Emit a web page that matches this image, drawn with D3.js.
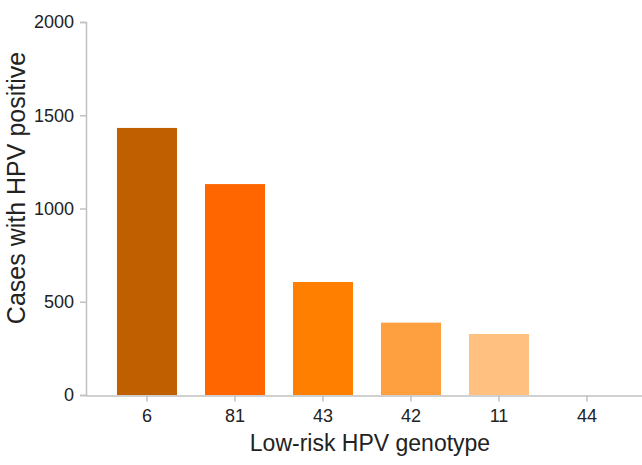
<!DOCTYPE html>
<html><head><meta charset="utf-8">
<script src="https://cdn.jsdelivr.net/npm/d3@7"></script>
<style>body{margin:0;background:#fff}svg{display:block}</style>
</head><body>
<svg id="chart" width="642" height="465"></svg>
<script>
const categories = ["6", "81", "43", "42", "11", "44"];
const values = [1432, 1131, 606, 388, 327, 0];
const colors = ["#C05F00", "#FF6600", "#FF8000", "#FFA040", "#FFC080", "#FFE0C0"];
const yTicks = [0, 500, 1000, 1500, 2000];

const svg = d3.select("#chart");
const x0 = 86, x1 = 648, yTop = 22, yBot = 395;
const x = d3.scaleBand().domain(categories).range([x0, x1]).paddingInner(0.318).paddingOuter(0.352);
const y = d3.scaleLinear().domain([0, 2000]).range([yBot, yTop]);

svg.selectAll("rect.bar").data(categories).enter().append("rect")
  .attr("class", "bar")
  .attr("x", d => x(d)).attr("width", x.bandwidth())
  .attr("y", (d, i) => y(values[i])).attr("height", (d, i) => yBot - y(values[i]))
  .attr("fill", (d, i) => colors[i]);

const gy = svg.append("g").attr("transform", `translate(${x0},0)`)
  .call(d3.axisLeft(y).tickValues(yTicks).tickSize(6).tickPadding(6).tickFormat(d3.format("d")));
const gx = svg.append("g").attr("transform", `translate(0,${yBot + 0.5})`)
  .call(d3.axisBottom(x).tickSize(6).tickPadding(8).tickSizeOuter(0));
[gy, gx].forEach(g => {
  g.attr("font-size", null).attr("font-family", null);
  g.selectAll("path,line").attr("stroke", "#c0c0c0").attr("stroke-width", 1.5);
  g.selectAll("text").attr("fill", "#222")
    .style("font-family", "Liberation Sans, Arial, sans-serif").style("font-size", "18px");
});

svg.append("text").attr("transform", `translate(25,188) rotate(-90)`)
  .attr("text-anchor", "middle").attr("fill", "#222")
  .style("font-family", "Liberation Sans, Arial, sans-serif").style("font-size", "25px")
  .text("Cases with HPV positive");
svg.append("text").attr("x", 370).attr("y", 451)
  .attr("text-anchor", "middle").attr("fill", "#222")
  .style("font-family", "Liberation Sans, Arial, sans-serif").style("font-size", "23px")
  .text("Low-risk HPV genotype");
</script>
</body></html>
